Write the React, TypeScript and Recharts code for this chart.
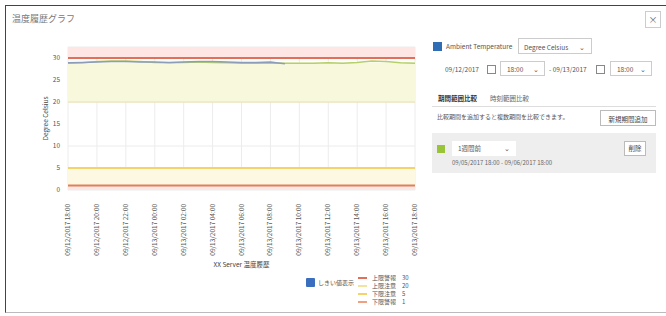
import { LineChart, Line, XAxis, YAxis, CartesianGrid, ReferenceArea, ReferenceLine } from 'recharts';

const hours = [0, 1, 2, 3, 4, 5, 6, 7, 8, 9, 10, 11, 12, 13, 14, 15, 16, 17, 18, 19, 20, 21, 22, 23, 24];
const currentTemps = [28.9, 29.0, 29.1, 29.2, 29.2, 29.1, 29.1, 29.0, 29.1, 29.2, 29.2, 29.1, 29.0, 29.0, 29.1, 28.7];
const compareTemps = [28.8, 28.9, 29.2, 29.3, 29.3, 29.2, 29.0, 28.9, 29.0, 29.1, 29.0, 28.9, 28.8, 28.8, 28.8, 28.8, 28.8, 28.8, 28.9, 28.8, 29.0, 29.3, 29.2, 28.9, 28.8];
const xTicks = [0, 2, 4, 6, 8, 10, 12, 14, 16, 18, 20, 22, 24];
const xLabels = [
  '09/12/2017 18:00', '09/12/2017 20:00', '09/12/2017 22:00', '09/13/2017 00:00',
  '09/13/2017 02:00', '09/13/2017 04:00', '09/13/2017 06:00', '09/13/2017 08:00',
  '09/13/2017 10:00', '09/13/2017 12:00', '09/13/2017 14:00', '09/13/2017 16:00',
  '09/13/2017 18:00',
];
const yTicks = [0, 5, 10, 15, 20, 25, 30];
const thresholdNames = ['上限警報', '上限注意', '下限注意', '下限警報'];
const thresholdValues = [30, 20, 5, 1];

const data = hours.map((h, i) => ({ h, current: currentTemps[i], compare: compareTemps[i] }));

const font = '"Noto Sans CJK JP", "Noto Sans", sans-serif';

const XTick = (props: any) => {
  const { x, y, payload } = props;
  const idx = xTicks.indexOf(payload.value);
  return (
    <g transform={`translate(${x},${y})`}>
      <text transform="rotate(-90)" x={-6} y={2} textAnchor="end" fontSize={6.5} fill="#555" fontFamily={font}>
        {xLabels[idx]}
      </text>
    </g>
  );
};

const legendColors = ['#e0705a', '#f0e4a0', '#f3d36a', '#f0a080'];

export default function App() {
  return (
    <div style={{ position: 'absolute', left: 0, top: 0, width: 666, height: 316, background: '#fff', fontFamily: font, overflow: 'hidden' }}>
      <div style={{ position: 'absolute', left: 5, top: 5, width: 670, height: 306, borderLeft: '1px solid #444', borderTop: '1px solid #444', borderBottom: '1px solid #bbb' }} />
      <div style={{ position: 'absolute', left: 12, top: 12, fontSize: 9, color: '#777' }}>温度履歴グラフ</div>
      <div style={{ position: 'absolute', left: 645, top: 11, width: 14, height: 15, border: '1px solid #ccc', fontSize: 9, color: '#666', textAlign: 'center', lineHeight: '15px' }}>×</div>

      <div style={{ position: 'absolute', left: 10, top: 40 }}>
        <LineChart width={410} height={235} data={data} margin={{ top: 7, right: 5, left: 0, bottom: 0 }}>
          <ReferenceArea y1={30} y2={32.5} fill="#fde6e4" fillOpacity={1} stroke="none" />
          <ReferenceArea y1={20} y2={29} fill="#f8f8dc" fillOpacity={1} stroke="none" />
          <ReferenceArea y1={1} y2={5} fill="#fcf8e2" fillOpacity={1} stroke="none" />
          <ReferenceArea y1={0} y2={1} fill="#fde6e4" fillOpacity={1} stroke="none" />
          <CartesianGrid stroke="#ececec" />
          <ReferenceLine y={thresholdValues[0]} stroke="#e0705a" strokeWidth={2} />
          <ReferenceLine y={thresholdValues[1]} stroke="#ece0a8" strokeWidth={1} />
          <ReferenceLine y={thresholdValues[2]} stroke="#f3d36a" strokeWidth={2} />
          <ReferenceLine y={thresholdValues[3]} stroke="#e0805a" strokeWidth={2} />
          <XAxis
            type="number"
            dataKey="h"
            domain={[0, 24]}
            ticks={xTicks}
            interval={0}
            tick={<XTick />}
            tickLine={false}
            axisLine={false}
            height={85}
            label={{ value: 'XX Server 温度履歴', position: 'insideBottom', offset: 8, fontSize: 6.5, fill: '#444', fontFamily: font }}
          />
          <YAxis
            domain={[0, 32.5]}
            ticks={yTicks}
            width={58}
            tickLine={false}
            axisLine={false}
            tick={{ fontSize: 6.5, fill: '#555', fontFamily: font }}
            label={{ value: 'Degree Celsius', angle: -90, position: 'insideLeft', offset: 36, fontSize: 6.5, fill: '#444', fontFamily: font, style: { textAnchor: 'middle' } }}
          />
          <Line type="linear" dataKey="compare" stroke="#b5cf6a" strokeWidth={1.5} dot={false} isAnimationActive={false} />
          <Line type="linear" dataKey="current" stroke="#8d9cb8" strokeWidth={1.5} dot={false} isAnimationActive={false} />
        </LineChart>
      </div>

      {/* legend */}
      <div style={{ position: 'absolute', left: 306, top: 278, width: 9, height: 9, background: '#3a6fc0', borderRadius: 1 }} />
      <div style={{ position: 'absolute', left: 318, top: 278, fontSize: 6, lineHeight: '9px', color: '#555' }}>しきい値表示</div>
      {thresholdNames.map((name, i) => (
        <div key={name} style={{ position: 'absolute', left: 358, top: 274 + i * 8, height: 8, fontSize: 6, color: '#555', display: 'flex', alignItems: 'center', lineHeight: '8px', whiteSpace: 'nowrap' }}>
          <span style={{ display: 'inline-block', width: 9, height: 1.5, background: legendColors[i], marginRight: 5 }} />
          <span style={{ display: 'inline-block', width: 30 }}>{name}</span>
          <span>{thresholdValues[i]}</span>
        </div>
      ))}

      {/* right panel */}
      <div style={{ position: 'absolute', left: 433, top: 42, width: 9, height: 9, background: '#2f6db5' }} />
      <div style={{ position: 'absolute', left: 446, top: 41, fontSize: 6.5, color: '#555' }}>Ambient Temperature</div>
      <div style={{ position: 'absolute', left: 518, top: 38, width: 74, height: 16, border: '1px solid #ccc', fontSize: 6.5, color: '#555', lineHeight: '16px', paddingLeft: 5, boxSizing: 'border-box' }}>
        Degree Celsius<span style={{ position: 'absolute', right: 6 }}>⌄</span>
      </div>

      <div style={{ position: 'absolute', left: 445, top: 64, fontSize: 6.5, color: '#555' }}>09/12/2017</div>
      <div style={{ position: 'absolute', left: 487, top: 65, width: 7, height: 7, border: '1px solid #888' }} />
      <div style={{ position: 'absolute', left: 500, top: 61, width: 45, height: 15, border: '1px solid #ccc', fontSize: 6.5, color: '#555', lineHeight: '15px', paddingLeft: 6, boxSizing: 'border-box' }}>
        18:00<span style={{ position: 'absolute', right: 5 }}>⌄</span>
      </div>
      <div style={{ position: 'absolute', left: 549, top: 64, fontSize: 6.5, color: '#555' }}>- 09/13/2017</div>
      <div style={{ position: 'absolute', left: 596, top: 65, width: 7, height: 7, border: '1px solid #888' }} />
      <div style={{ position: 'absolute', left: 610, top: 61, width: 42, height: 15, border: '1px solid #ccc', fontSize: 6.5, color: '#555', lineHeight: '15px', paddingLeft: 6, boxSizing: 'border-box' }}>
        18:00<span style={{ position: 'absolute', right: 5 }}>⌄</span>
      </div>

      <div style={{ position: 'absolute', left: 438, top: 93, fontSize: 6.5, color: '#333', fontWeight: 700 }}>期間範囲比較</div>
      <div style={{ position: 'absolute', left: 490, top: 93, fontSize: 6.5, color: '#666' }}>時刻範囲比較</div>
      <div style={{ position: 'absolute', left: 432, top: 106, width: 224, height: 1, background: '#ddd' }} />
      <div style={{ position: 'absolute', left: 437, top: 112, fontSize: 6, color: '#555' }}>比較期間を追加すると複数期間を比較できます。</div>
      <div style={{ position: 'absolute', left: 600, top: 110, width: 56, height: 16, border: '1px solid #bbb', fontSize: 6.5, color: '#444', lineHeight: '16px', textAlign: 'center', boxSizing: 'border-box' }}>新規期間追加</div>

      <div style={{ position: 'absolute', left: 432, top: 133, width: 224, height: 40, background: '#eeeeee' }} />
      <div style={{ position: 'absolute', left: 437, top: 145, width: 8, height: 8, background: '#99c43a' }} />
      <div style={{ position: 'absolute', left: 452, top: 141, width: 64, height: 15, background: '#fff', fontSize: 6.5, color: '#555', lineHeight: '15px', paddingLeft: 6, boxSizing: 'border-box' }}>
        1週間前<span style={{ position: 'absolute', right: 6 }}>⌄</span>
      </div>
      <div style={{ position: 'absolute', left: 624, top: 141, width: 22, height: 15, background: '#fff', border: '1px solid #bbb', fontSize: 6.5, color: '#444', lineHeight: '13px', textAlign: 'center', boxSizing: 'border-box' }}>削除</div>
      <div style={{ position: 'absolute', left: 452, top: 158, fontSize: 6, color: '#666' }}>09/05/2017 18:00 - 09/06/2017 18:00</div>
    </div>
  );
}
